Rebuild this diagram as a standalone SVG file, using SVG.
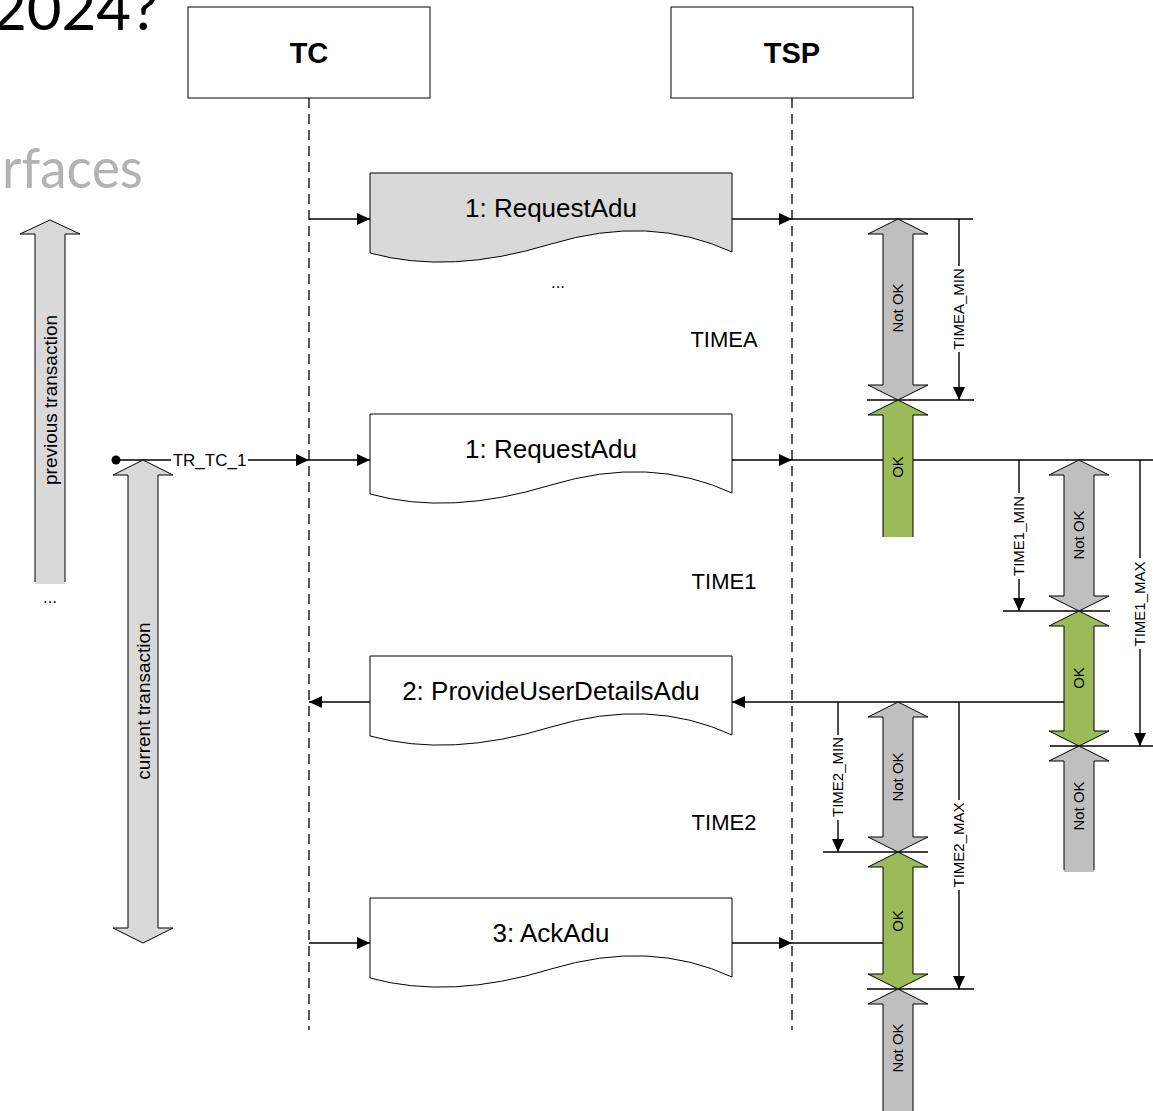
<svg xmlns="http://www.w3.org/2000/svg" width="1153" height="1111" viewBox="0 0 1153 1111">
<style>
.t{font-family:"Liberation Sans",Arial,sans-serif;fill:#000}
.box{fill:#fff;stroke:#000;stroke-width:1}
.life{stroke:#000;stroke-width:1.3;stroke-dasharray:10 6;fill:none}
.ln{stroke:#000;stroke-width:1.4;fill:none}
.docg{fill:#d9d9d9;stroke:#000;stroke-width:1}
.doc{fill:#fff;stroke:#000;stroke-width:1}
.nok{fill:#bfbfbf;stroke:#000;stroke-width:1}
.ok{fill:#9bbb59;stroke:#000;stroke-width:1}
.tr{fill:#d9d9d9;stroke:#000;stroke-width:1}
.nostroke{stroke:none}
.edge{fill:none;stroke:#000;stroke-width:1}
</style>
<defs>
<marker id="ah" markerUnits="userSpaceOnUse" markerWidth="14" markerHeight="12" refX="13" refY="6" orient="auto">
<path d="M0,0 L13,6 L0,12 z" fill="#000"/>
</marker>
</defs>
<rect width="1153" height="1111" fill="#fff"/>
<!-- background fragments -->
<text x="158" y="30" font-family="Lato, 'Noto Sans', sans-serif" font-size="60" fill="#000" text-anchor="end">2024?</text>
<text x="143" y="188" font-family="Lato, 'Noto Sans', sans-serif" font-size="56" fill="#b3b3b3" text-anchor="end" textLength="141" lengthAdjust="spacingAndGlyphs">rfaces</text>

<!-- lifeline heads -->
<g id="TC"><rect class="box" x="188" y="7" width="242" height="91"/><text class="t" x="309" y="63" font-size="29" font-weight="bold" text-anchor="middle">TC</text></g>
<g id="TSP"><rect class="box" x="671" y="7" width="242" height="91"/><text class="t" x="792" y="63" font-size="29" font-weight="bold" text-anchor="middle">TSP</text></g>

<g id="lifelines">
<line class="life" x1="309" y1="98" x2="309" y2="1030"/>
<line class="life" x1="792" y1="98" x2="792" y2="1030"/>
</g>

<!-- connectors -->
<g id="connectors">
<line class="ln" x1="309" y1="219" x2="370" y2="219" marker-end="url(#ah)"/>
<line class="ln" x1="732" y1="219" x2="792" y2="219" marker-end="url(#ah)"/>
<line class="ln" x1="792" y1="219" x2="973" y2="219"/>
<circle cx="116" cy="460" r="4.5" fill="#000"/>
<line class="ln" x1="116" y1="460" x2="171" y2="460"/>
<line class="ln" x1="248" y1="460" x2="309" y2="460" marker-end="url(#ah)"/>
<line class="ln" x1="309" y1="460" x2="370" y2="460" marker-end="url(#ah)"/>
<line class="ln" x1="732" y1="460" x2="792" y2="460" marker-end="url(#ah)"/>
<line class="ln" x1="792" y1="460" x2="1153" y2="460"/>
<line class="ln" x1="1064" y1="702" x2="732" y2="702" marker-end="url(#ah)"/>
<line class="ln" x1="370" y1="702" x2="309" y2="702" marker-end="url(#ah)"/>
<line class="ln" x1="309" y1="943" x2="370" y2="943" marker-end="url(#ah)"/>
<line class="ln" x1="732" y1="943" x2="792" y2="943" marker-end="url(#ah)"/>
<line class="ln" x1="792" y1="943" x2="883" y2="943"/>
<!-- boundary lines -->
<line class="ln" x1="867" y1="400" x2="974" y2="400"/>
<line class="ln" x1="1003" y1="611" x2="1110" y2="611"/>
<line class="ln" x1="1050" y1="746" x2="1153" y2="746"/>
<line class="ln" x1="823" y1="852" x2="928" y2="852"/>
<line class="ln" x1="867" y1="989" x2="974" y2="989"/>
<!-- dimension lines -->
<line class="ln" x1="959" y1="219" x2="959" y2="266"/>
<line class="ln" x1="959" y1="352" x2="959" y2="400" marker-end="url(#ah)"/>
<line class="ln" x1="1019" y1="460" x2="1019" y2="493"/>
<line class="ln" x1="1019" y1="579" x2="1019" y2="611" marker-end="url(#ah)"/>
<line class="ln" x1="1140" y1="460" x2="1140" y2="558"/>
<line class="ln" x1="1140" y1="649" x2="1140" y2="746" marker-end="url(#ah)"/>
<line class="ln" x1="838" y1="702" x2="838" y2="735"/>
<line class="ln" x1="838" y1="820" x2="838" y2="852" marker-end="url(#ah)"/>
<line class="ln" x1="959" y1="702" x2="959" y2="800"/>
<line class="ln" x1="959" y1="890" x2="959" y2="989" marker-end="url(#ah)"/>
<text class="t" x="209.5" y="466" font-size="17" text-anchor="middle">TR_TC_1</text>
<text class="t" transform="rotate(-90 959 309)" x="959" y="314" font-size="15" text-anchor="middle">TIMEA_MIN</text>
<text class="t" transform="rotate(-90 1019 536)" x="1019" y="541" font-size="15" text-anchor="middle">TIME1_MIN</text>
<text class="t" transform="rotate(-90 1140 604)" x="1140" y="609" font-size="15" text-anchor="middle">TIME1_MAX</text>
<text class="t" transform="rotate(-90 838 777)" x="838" y="782" font-size="15" text-anchor="middle">TIME2_MIN</text>
<text class="t" transform="rotate(-90 959 845)" x="959" y="850" font-size="15" text-anchor="middle">TIME2_MAX</text>
</g>

<!-- messages -->
<g id="msg1"><path class="docg" d="M370,173 H732 V252 Q650,214 551,244 Q450,275 370,253 Z"/><text class="t" x="551" y="217" font-size="26" text-anchor="middle">1: RequestAdu</text></g>
<text class="t" x="558" y="288" font-size="17" text-anchor="middle">...</text>
<g id="msg2"><path class="doc" d="M370,414 H732 V493 Q650,455 551,485 Q450,516 370,494 Z"/><text class="t" x="551" y="458" font-size="26" text-anchor="middle">1: RequestAdu</text></g>
<g id="msg3"><path class="doc" d="M370,656 H732 V735 Q650,697 551,727 Q450,758 370,736 Z"/><text class="t" x="551" y="700" font-size="26" text-anchor="middle">2: ProvideUserDetailsAdu</text></g>
<g id="msg4"><path class="doc" d="M370,898 H732 V977 Q650,939 551,969 Q450,1000 370,978 Z"/><text class="t" x="551" y="942" font-size="26" text-anchor="middle">3: AckAdu</text></g>

<g id="time-labels">
<text class="t" x="724" y="347" font-size="22" text-anchor="middle">TIMEA</text>
<text class="t" x="724" y="589" font-size="22" text-anchor="middle">TIME1</text>
<text class="t" x="724" y="830" font-size="22" text-anchor="middle">TIME2</text>
</g>

<!-- transaction arrows -->
<g id="prev-transaction">
<polygon class="tr nostroke" points="50,220 80,234 65,234 65,584 35,584 35,234 20,234"/>
<polyline class="edge" points="35,582 35,234 20,234 50,220 80,234 65,234 65,582"/>
<text class="t" transform="rotate(-90 50 400)" x="50" y="406.5" font-size="19" text-anchor="middle">previous transaction</text>
<text class="t" x="50" y="603" font-size="17" text-anchor="middle">...</text>
</g>
<g id="cur-transaction">
<polygon class="tr" points="143,460 173,475 158,475 158,928 173,928 143,943 113,928 128,928 128,475 113,475"/>
<text class="t" transform="rotate(-90 143 701)" x="143" y="707.5" font-size="19" text-anchor="middle">current transaction</text>
</g>

<!-- OK / Not OK arrows -->
<g id="nokA"><polygon class="nok" points="898,219 928,234 913,234 913,385 928,385 898,400 868,385 883,385 883,234 868,234"/><text class="t" transform="rotate(-90 898 308)" x="898" y="313" font-size="15" text-anchor="middle">Not OK</text></g>
<g id="okA"><polygon class="ok nostroke" points="898,400 928,415 913,415 913,537 883,537 883,415 868,415"/><polyline class="edge" points="883,537 883,415 868,415 898,400 928,415 913,415 913,537"/><text class="t" transform="rotate(-90 898 467)" x="898" y="472" font-size="15" text-anchor="middle">OK</text></g>
<g id="nok1"><polygon class="nok" points="1079,460 1109,475 1094,475 1094,596 1109,596 1079,611 1049,596 1064,596 1064,475 1049,475"/><text class="t" transform="rotate(-90 1079 535)" x="1079" y="540" font-size="15" text-anchor="middle">Not OK</text></g>
<g id="ok1"><polygon class="ok" points="1079,611 1109,626 1094,626 1094,731 1109,731 1079,746 1049,731 1064,731 1064,626 1049,626"/><text class="t" transform="rotate(-90 1079 678)" x="1079" y="683" font-size="15" text-anchor="middle">OK</text></g>
<g id="nok1b"><polygon class="nok nostroke" points="1079,746 1109,761 1094,761 1094,872 1064,872 1064,761 1049,761"/><polyline class="edge" points="1064,870 1064,761 1049,761 1079,746 1109,761 1094,761 1094,870"/><text class="t" transform="rotate(-90 1079 806)" x="1079" y="811" font-size="15" text-anchor="middle">Not OK</text></g>
<g id="nok2"><polygon class="nok" points="898,702 928,717 913,717 913,837 928,837 898,852 868,837 883,837 883,717 868,717"/><text class="t" transform="rotate(-90 898 777)" x="898" y="782" font-size="15" text-anchor="middle">Not OK</text></g>
<g id="ok2"><polygon class="ok" points="898,852 928,867 913,867 913,974 928,974 898,989 868,974 883,974 883,867 868,867"/><text class="t" transform="rotate(-90 898 921)" x="898" y="926" font-size="15" text-anchor="middle">OK</text></g>
<g id="nok2b"><polygon class="nok" points="898,989 928,1004 913,1004 913,1120 883,1120 883,1004 868,1004"/><text class="t" transform="rotate(-90 898 1048)" x="898" y="1053" font-size="15" text-anchor="middle">Not OK</text></g>
</svg>
